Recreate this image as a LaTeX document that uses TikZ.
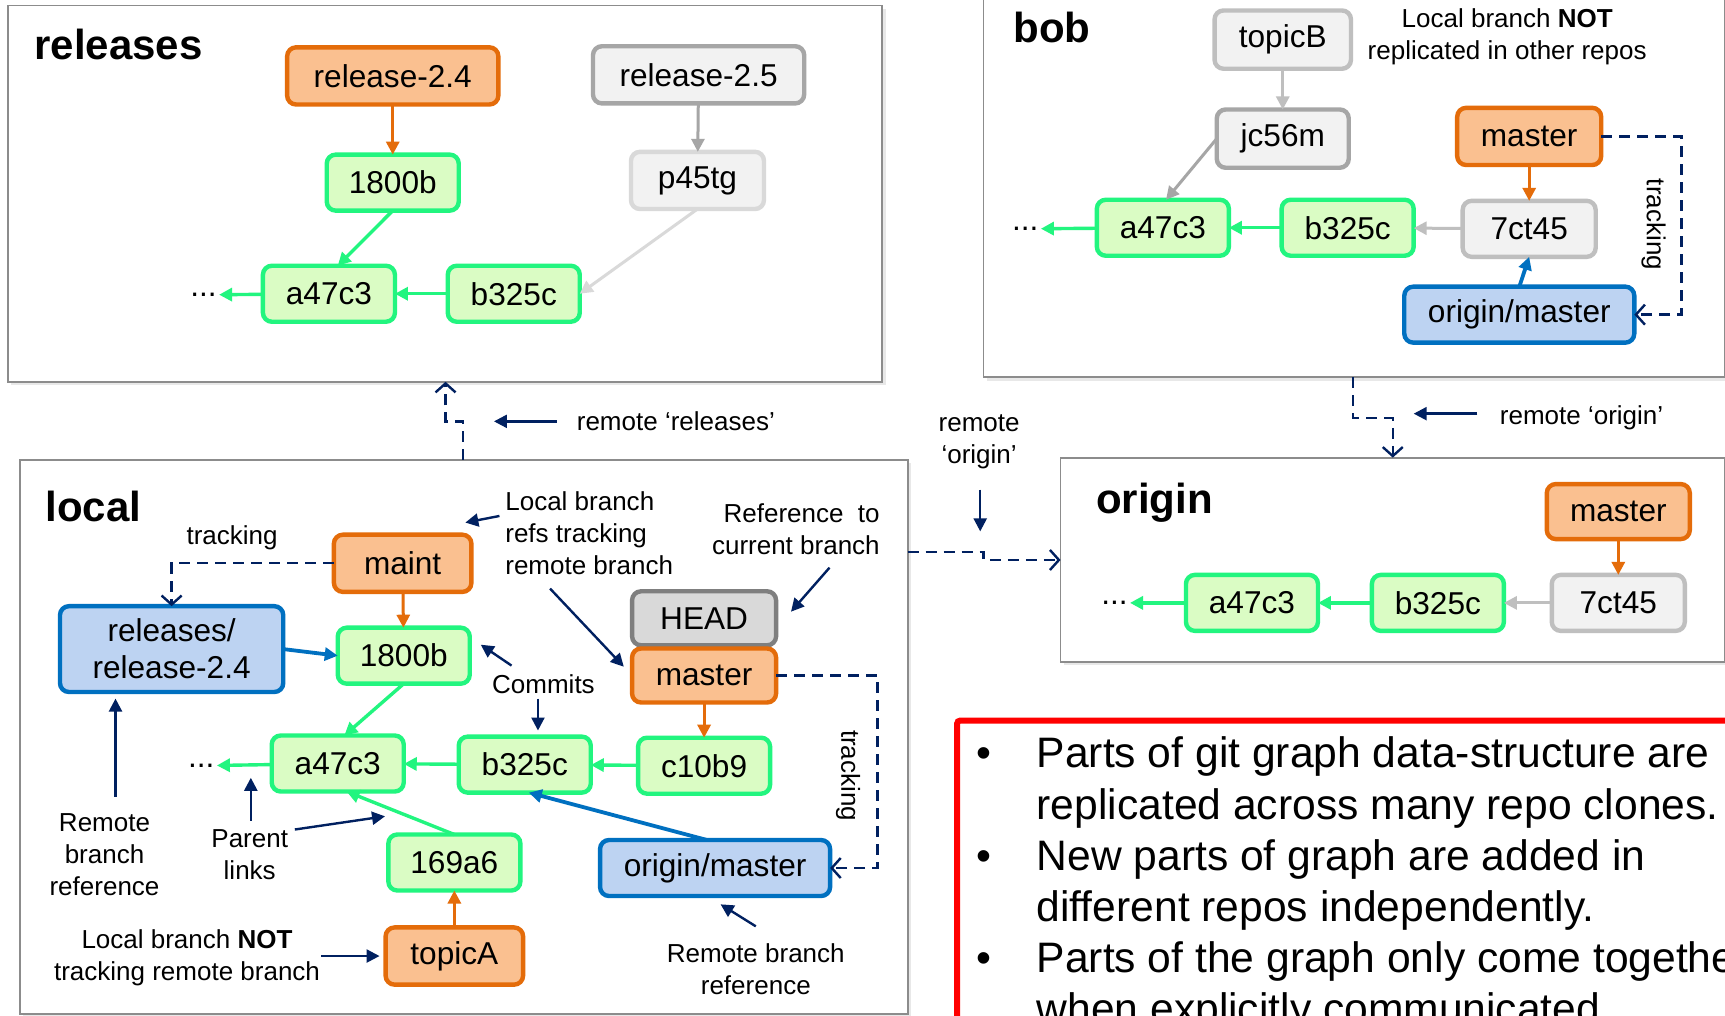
\documentclass[tikz,border=0pt]{standalone}
\usepackage{fontspec}
\setmainfont{Liberation Sans}
\usetikzlibrary{arrows.meta,shadows}
\definecolor{orgF}{HTML}{FAC090}
\definecolor{orgD}{HTML}{E46C0A}
\definecolor{grnF}{HTML}{DAFCC4}
\definecolor{grnD}{HTML}{22F57F}
\definecolor{bluF}{HTML}{BDD3F2}
\definecolor{bluD}{HTML}{0070C0}
\definecolor{gryF}{HTML}{F2F2F2}
\definecolor{gryA}{HTML}{A6A6A6}
\definecolor{gryB}{HTML}{BFBFBF}
\definecolor{gryD}{HTML}{D9D9D9}
\definecolor{gryH}{HTML}{7F7F7F}
\definecolor{navy}{HTML}{002060}
\definecolor{panelgray}{HTML}{8C8C8C}
\begin{document}
\begin{tikzpicture}[x=0.55pt,y=-0.55pt,
  box/.style={draw, line width=2.2pt, rounded corners=4.5pt, inner sep=0pt, outer sep=0pt,
    font=\fontsize{15.8}{19}\selectfont, text=black},
  commit/.style={box, fill=grnF, draw=grnD, minimum width=66pt, minimum height=28pt},
  branch/.style={box, fill=orgF, draw=orgD, minimum height=28.6pt},
  remoteb/.style={box, fill=bluF, draw=bluD, minimum width=115pt, minimum height=28pt},
  ghost/.style={box, fill=gryF, minimum width=66.5pt, minimum height=28.6pt},
  dots/.style={inner sep=1pt, font=\fontsize{15.8}{19}\selectfont},
  panel/.style={draw=panelgray, line width=0.9pt, fill=white, inner sep=0pt, outer sep=0pt,
    drop shadow={shadow xshift=1.6pt, shadow yshift=-1.6pt, opacity=0.18}},
  title/.style={font=\fontsize{21}{25}\selectfont\bfseries, anchor=west, inner sep=0pt},
  note/.style={font=\fontsize{13}{16}\selectfont, inner sep=0pt},
  bullet/.style={font=\fontsize{21.3}{25}\selectfont, inner sep=0pt},
  tipA/.style={-{Triangle[length=6.5pt,width=6.5pt]}},
  grnarrow/.style={tipA, draw=grnD, line width=1.7pt},
  orgarrow/.style={tipA, draw=orgD, line width=1.5pt},
  bluarrow/.style={tipA, draw=bluD, line width=1.9pt},
  grayarrow/.style={tipA, line width=1.5pt},
  annot/.style={draw=navy, line width=1.2pt, -{Triangle[length=6.5pt,width=6.5pt]}},
  dashlink/.style={draw=navy, line width=1.2pt, dash pattern=on 5.5pt off 3.5pt,
    -{Straight Barb[length=4.5pt,width=10pt]}}
]
\useasboundingbox (0,0) rectangle (1568,923);
\clip (0,0) rectangle (1568,923);
\fill[white] (0,0) rectangle (1568,923);

% ---------- panels ----------
\node[panel, minimum width=437.25pt, minimum height=188.1pt] (relP) at (404.5,176) {};
\node[panel, minimum width=443.85pt, minimum height=277.2pt] (locP) at (421.5,670) {};
\node[panel, minimum width=370.4pt, minimum height=191.4pt] (bobP) at (1230.75,169) {};
\node[panel, minimum width=331.9pt, minimum height=102.3pt] (oriP) at (1265.75,509) {};

\node[title] (tRel) at (31,40) {releases};
\node[title] (tBob) at (921,25) {bob};
\node[title] (tLoc) at (41,460) {local};
\node[title] (tOri) at (996,457) {origin};

% ---------- releases ----------
\node[branch, minimum width=105.6pt] (rel24) at (357,69) {release-2.4};
\node[ghost, draw=gryA, minimum width=105.6pt] (rel25) at (635,68) {release-2.5};
\node[commit] (r1800) at (357,166) {1800b};
\node[ghost, draw=gryD] (p45) at (634,164) {p45tg};
\node[commit] (ra47) at (299,267) {a47c3};
\node[commit] (rb325) at (467,267) {b325c};
\node[dots] (rdots) at (185,268) {...};
\draw[orgarrow] (rel24) -- (r1800);
\draw[grayarrow, draw=gryA] (rel25) -- (p45);
\draw[grnarrow] (r1800.south) -- ([xshift=4.4pt]ra47.north);
\draw[grayarrow, draw=gryD] (p45.south) -- (rb325.east);
\draw[grnarrow] (rb325) -- (ra47);
\draw[grnarrow] (ra47) -- (rdots);

% ---------- bob ----------
\node[ghost, draw=gryB, minimum width=68.2pt, minimum height=29.15pt] (topicB) at (1166,36) {topicB};
\node[ghost, draw=gryA, minimum width=66pt, minimum height=29.15pt] (jc) at (1166,126) {jc56m};
\node[branch, minimum width=72pt] (bmaster) at (1390,124) {master};
\node[commit] (ba47) at (1057,207) {a47c3};
\node[commit] (bb325) at (1225,207) {b325c};
\node[ghost, draw=gryB, minimum height=28pt] (b7ct) at (1390,208) {7ct45};
\node[remoteb] (bom) at (1381,286) {origin/master};
\node[dots] (bdots) at (932,208) {...};
\node[note, align=center] (bNote) at (1370,33) {Local branch \textbf{NOT}\\replicated in other repos};
\draw[grayarrow, draw=gryB] (topicB) -- (jc);
\draw[grayarrow, draw=gryA] (jc.west) -- ([xshift=1.6pt]ba47.north);
\draw[orgarrow] (bmaster) -- (b7ct);
\draw[grayarrow, draw=gryB] (b7ct) -- (bb325);
\draw[grnarrow] (bb325) -- (ba47);
\draw[grnarrow] (ba47) -- (bdots);
\draw[bluarrow] (bom.north) -- (b7ct.south);
\draw[dashlink] (bmaster.east) -- ++(73,0) |- (bom.east);
\node[note, rotate=-90] (bTrack) at (1503,204) {tracking};

% ---------- local ----------
\node[branch, minimum width=68.75pt] (maint) at (366,512) {maint};
\node[box, fill=bluF, draw=bluD, minimum width=111.65pt, minimum height=42.9pt, align=center,
  font=\fontsize{15.8}{18.5}\selectfont] (rrel) at (156,590) {releases/\\release-2.4};
\node[commit] (l1800) at (367,596) {1800b};
\node[box, fill=gryD, draw=gryH, minimum width=72pt, minimum height=27pt] (head) at (640,562) {HEAD};
\node[branch, minimum width=72pt, minimum height=27pt] (lmaster) at (640,614) {master};
\node[commit] (la47) at (307,694) {a47c3};
\node[commit] (lb325) at (477,695) {b325c};
\node[commit] (lc10) at (640,696) {c10b9};
\node[commit] (l169) at (413,784) {169a6};
\node[remoteb] (lom) at (650,789) {origin/master};
\node[branch, minimum width=68.75pt] (topicA) at (413,869) {topicA};
\node[dots] (ldots) at (183,696) {...};

\draw[orgarrow] (maint) -- (l1800);
\draw[bluarrow] (rrel.east) -- (l1800.west);
\draw[grnarrow] (l1800.south) -- ([xshift=3.3pt]la47.north);
\draw[grnarrow] (lb325) -- (la47);
\draw[grnarrow] (lc10) -- (lb325);
\draw[grnarrow] (la47) -- (ldots);
\draw[orgarrow] (lmaster) -- (lc10);
\draw[grnarrow] (l169.north) -- ([xshift=4.4pt]la47.south);
\draw[bluarrow] ([xshift=-4pt]lom.north) -- ([xshift=2pt]lb325.south);
\draw[orgarrow] (topicA) -- (l169);

\draw[dashlink] (maint.west) -| (rrel.north);
\node[note] (lTrack1) at (211,489) {tracking};
\draw[dashlink] (lmaster.east) -- ++(92,0) |- (lom.east);
\node[note, rotate=-90] (lTrack2) at (771,705) {tracking};

% local notes
\node[note, align=left, anchor=west] (nLocal) at (459,485) {Local branch\\refs tracking\\remote branch};
\node[note, align=right, anchor=east] (nRef) at (800,481) {Reference\ \ to\\current branch};
\node[note] (nCommits) at (494,622) {Commits};
\node[note, align=center] (nRemote) at (95,777) {Remote\\branch\\reference};
\node[note, align=center] (nParent) at (227,777) {Parent\\links};
\node[note, align=center] (nNot) at (170,871) {Local branch \textbf{NOT}\\tracking remote branch};
\node[note, align=center] (nRemote2) at (687,881) {Remote branch\\reference};

\coordinate (a1s) at (454,469); \coordinate (a1e) at (423,475);
\coordinate (a2s) at (500,535); \coordinate (a2e) at (567,606);
\coordinate (a3s) at (754,516); \coordinate (a3e) at (719,556);
\coordinate (a4s) at (465,605); \coordinate (a4e) at (437,586);
\coordinate (a5s) at (489,635); \coordinate (a5e) at (489,664);
\coordinate (a6s) at (105,724); \coordinate (a6e) at (105,635);
\coordinate (a7s) at (228,746); \coordinate (a7e) at (228,707);
\coordinate (a8s) at (268,754); \coordinate (a8e) at (350,742);
\coordinate (a9s) at (292,869); \coordinate (a9e) at (345,869);
\coordinate (a10s) at (687,842); \coordinate (a10e) at (655,822);
\foreach \i in {1,...,10} {\draw[annot] (a\i s) -- (a\i e);}

% ---------- origin ----------
\node[branch, minimum width=71.5pt, minimum height=27.5pt] (omaster) at (1471,465) {master};
\node[commit] (oa47) at (1138,548) {a47c3};
\node[commit] (ob325) at (1307,548) {b325c};
\node[ghost, draw=gryB, minimum height=28pt] (o7ct) at (1471,548) {7ct45};
\node[dots] (odots) at (1013,548) {...};
\draw[orgarrow] (omaster) -- (o7ct);
\draw[grayarrow, draw=gryB] (o7ct) -- (ob325);
\draw[grnarrow] (ob325) -- (oa47);
\draw[grnarrow] (oa47) -- (odots);

% ---------- inter-repo links ----------
\coordinate (k1) at (421,0); \coordinate (k2) at (405,383);
\draw[dashlink] (locP.north -| k1) |- (k2) -- (relP.south -| k2);
\coordinate (m1) at (1230,0); \coordinate (m2) at (1266,380);
\draw[dashlink] (bobP.south -| m1) |- (m2) -- (oriP.north -| m2);
\coordinate (n1) at (894,502); \coordinate (n2) at (894,509);
\draw[dashlink] (locP.east |- n1) -- (n1) -- (n2) -- (oriP.west |- n2);

\node[note, anchor=west] (remRel) at (524,383) {remote ‘releases’};
\node[note, anchor=west] (remOri) at (1363,380) {remote ‘origin’};
\node[note, align=center] (remOri2) at (890,402) {remote\\‘origin’};
\coordinate (a11s) at (506,383); \coordinate (a11e) at (449,383);
\coordinate (a12s) at (1343,376); \coordinate (a12e) at (1285,376);
\coordinate (a13s) at (891,445); \coordinate (a13e) at (891,483);
\foreach \i in {11,12,13} {\draw[annot] (a\i s) -- (a\i e);}

% ---------- red summary box ----------
\draw[red, line width=3pt, rounded corners=1.5pt] (870,655) rectangle (1620,980);
\node[bullet, anchor=base] (b1) at (894,698) {•};
\node[bullet, anchor=base] (b2) at (894,791) {•};
\node[bullet, anchor=base] (b3) at (894,884) {•};
\node[bullet, anchor=base west] (t1) at (942,698) {Parts of git graph data-structure are};
\node[bullet, anchor=base west] (t2) at (942,744.5) {replicated across many repo clones.};
\node[bullet, anchor=base west] (t3) at (942,791) {New parts of graph are added in};
\node[bullet, anchor=base west] (t4) at (942,837.5) {different repos independently.};
\node[bullet, anchor=base west] (t5) at (942,884) {Parts of the graph only come together};
\node[bullet, anchor=base west] (t6) at (942,930.5) {when explicitly communicated.};
\end{tikzpicture}
\end{document}
